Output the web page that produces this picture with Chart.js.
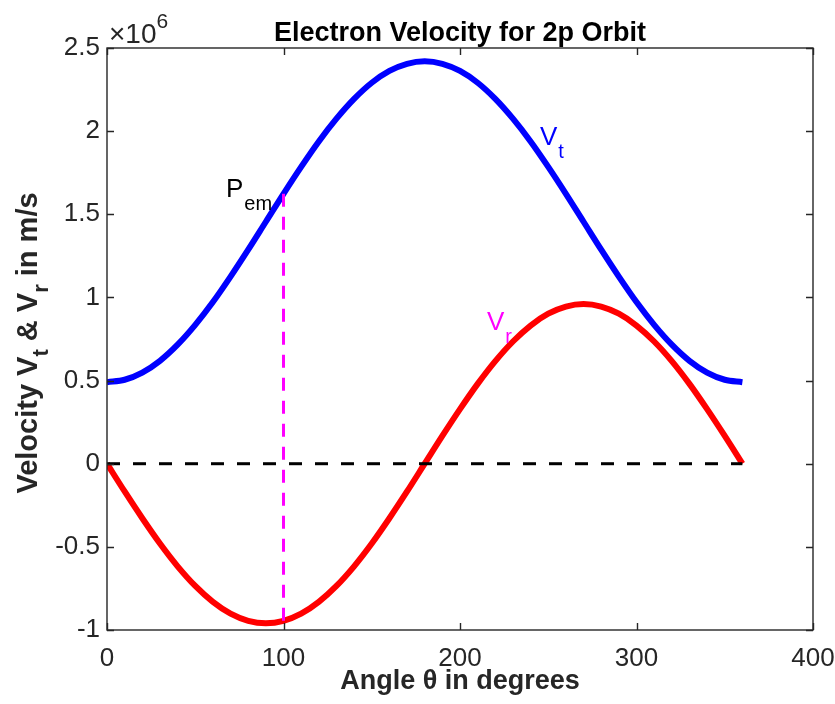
<!DOCTYPE html>
<html>
<head>
<meta charset="utf-8">
<script src="https://cdn.jsdelivr.net/npm/chart.js@4/dist/chart.umd.min.js"></script>
<style>
html,body{margin:0;padding:0;background:#fff;}
canvas{display:block;}
</style>
</head>
<body>
<canvas id="c" width="835" height="704"></canvas>
<script>
// ---- data (velocities in units of 10^6 m/s) ----
const angles = [0,10,20,30,40,50,60,70,80,90,100,110,120,130,140,150,160,170,180,
  190,200,210,220,230,240,250,260,270,280,290,300,310,320,330,340,350,360];
const vt = [0.49,0.505,0.548,0.619,0.716,0.835,0.972,1.125,1.287,1.455,1.623,1.785,1.938,2.075,2.194,2.291,2.362,2.405,2.42,
  2.405,2.362,2.291,2.194,2.075,1.938,1.785,1.623,1.455,1.287,1.125,0.972,0.835,0.716,0.619,0.548,0.505,0.49];
const vr = [0,-0.167,-0.328,-0.48,-0.617,-0.735,-0.831,-0.902,-0.945,-0.96,-0.945,-0.902,-0.831,-0.735,-0.617,-0.48,-0.328,-0.167,0,
  0.167,0.328,0.48,0.617,0.735,0.831,0.902,0.945,0.96,0.945,0.902,0.831,0.735,0.617,0.48,0.328,0.167,0];
const zeroAngles = [0,360];
const zeroValues = [0,0];
const pemAngles = [100,100];
const pemValues = [-0.945,1.64];
const xTickValues = [0,100,200,300,400];
const yTickValues = [-1,-0.5,0,0.5,1,1.5,2,2.5];
const yTickLabels = ["-1","-0.5","0","0.5","1","1.5","2","2.5"];

const titleText = "Electron Velocity for 2p Orbit";
const xTitle = "Angle \u03b8 in degrees";
const exponentText = ["\u00d710","6"];

const FONT = "'Liberation Sans', Arial, Helvetica, sans-serif";
const AXC = "#262626";

const pts = (xs, ys) => xs.map((x,i)=>({x:x,y:ys[i]}));

const decor = {
  id: 'decor',
  afterDraw(chart){
    const ctx = chart.ctx;
    const a = chart.chartArea;
    const xs = chart.scales.x, ys = chart.scales.y;
    ctx.save();
    // box
    ctx.strokeStyle = AXC;
    ctx.lineWidth = 1.4;
    ctx.strokeRect(a.left, a.top, a.right-a.left, a.bottom-a.top);
    // inward ticks
    const tl = 7;
    ctx.beginPath();
    xs.ticks.forEach(t=>{
      const px = Math.round(xs.getPixelForValue(t.value))+0.5;
      ctx.moveTo(px, a.bottom); ctx.lineTo(px, a.bottom-tl);
      ctx.moveTo(px, a.top); ctx.lineTo(px, a.top+tl);
    });
    ys.ticks.forEach(t=>{
      const py = Math.round(ys.getPixelForValue(t.value))+0.5;
      ctx.moveTo(a.left, py); ctx.lineTo(a.left+tl, py);
      ctx.moveTo(a.right, py); ctx.lineTo(a.right-tl, py);
    });
    ctx.stroke();

    // title
    ctx.fillStyle = "#000";
    ctx.font = "bold 27px " + FONT;
    ctx.textAlign = "center";
    ctx.textBaseline = "alphabetic";
    ctx.fillText(titleText, (a.left+a.right)/2, 41);

    // x title
    ctx.fillStyle = AXC;
    ctx.font = "bold 27px " + FONT;
    ctx.fillText(xTitle, (a.left+a.right)/2, 689);

    // exponent
    ctx.textAlign = "left";
    ctx.font = "28px " + FONT;
    ctx.fillText(exponentText[0], a.left+2, 43);
    const w10 = ctx.measureText(exponentText[0]).width;
    ctx.font = "21px " + FONT;
    ctx.fillText(exponentText[1], a.left+2+w10, 28);

    // y title with subscripts, rotated
    const parts = [
      ["Velocity V", false],["t", true],[" & V", false],["r", true],[" in m/s", false]
    ];
    const mainF = "bold 29px " + FONT, subF = "bold 22px " + FONT;
    let total = 0;
    parts.forEach(p=>{ ctx.font = p[1]?subF:mainF; total += ctx.measureText(p[0]).width; });
    ctx.save();
    ctx.translate(37, 343);
    ctx.rotate(-Math.PI/2);
    let cx = -total/2;
    parts.forEach(p=>{
      ctx.font = p[1]?subF:mainF;
      ctx.fillText(p[0], cx, p[1]?11:0);
      cx += ctx.measureText(p[0]).width;
    });
    ctx.restore();

    // annotations
    const label = (main, sub, xv, yv, color) => {
      const px = xs.getPixelForValue(xv), py = ys.getPixelForValue(yv);
      ctx.fillStyle = color;
      ctx.font = "26px " + FONT;
      ctx.textAlign = "left";
      ctx.fillText(main, px, py);
      const w = ctx.measureText(main).width;
      ctx.font = "20px " + FONT;
      ctx.fillText(sub, px + w + 1, py + 13);
    };
    label("P", "em", 67.4, 1.604, "#000");
    label("V", "t", 245.3, 1.916, "#0000ff");
    label("V", "r", 215.3, 0.804, "#ff00ff");
    ctx.restore();
  }
};

new Chart(document.getElementById('c'), {
  type: 'line',
  data: {
    datasets: [
      { data: pts(pemAngles, pemValues), borderColor: '#ff00ff', borderWidth: 3, borderDash: [13,10], pointRadius: 0, order: 0, tension: 0 },
      { data: pts(zeroAngles, zeroValues), borderColor: '#000000', borderWidth: 3, borderDash: [13,13], pointRadius: 0, order: 1, tension: 0 },
      { data: pts(angles, vr), borderColor: '#ff0000', borderWidth: 6, pointRadius: 0, order: 2, cubicInterpolationMode: 'monotone' },
      { data: pts(angles, vt), borderColor: '#0000ff', borderWidth: 6, pointRadius: 0, order: 3, cubicInterpolationMode: 'monotone' }
    ]
  },
  options: {
    responsive: false,
    animation: false,
    devicePixelRatio: 1,
    layout: { padding: { left: 47, right: 22, top: 48, bottom: 0 } },
    plugins: { legend: { display: false }, tooltip: { enabled: false }, title: { display: false } },
    scales: {
      x: {
        type: 'linear', min: 0, max: 400,
        afterBuildTicks: s => { s.ticks = xTickValues.map(v=>({value:v})); },
        afterFit: s => { s.height = 74; s.paddingLeft = 0; s.paddingRight = 0; },
        grid: { display: false, drawTicks: false },
        border: { display: false },
        ticks: { color: AXC, font: { family: FONT, size: 26 }, padding: 13, maxRotation: 0,
                 callback: v => String(v) }
      },
      y: {
        type: 'linear', min: -1, max: 2.5,
        afterBuildTicks: s => { s.ticks = yTickValues.map(v=>({value:v})); },
        afterFit: s => { s.width = 60; s.paddingTop = 0; s.paddingBottom = 0; },
        grid: { display: false, drawTicks: false },
        border: { display: false },
        ticks: { color: AXC, font: { family: FONT, size: 26 }, padding: 7,
                 callback: v => yTickLabels[yTickValues.indexOf(v)] }
      }
    }
  },
  plugins: [decor]
});
</script>
</body>
</html>
